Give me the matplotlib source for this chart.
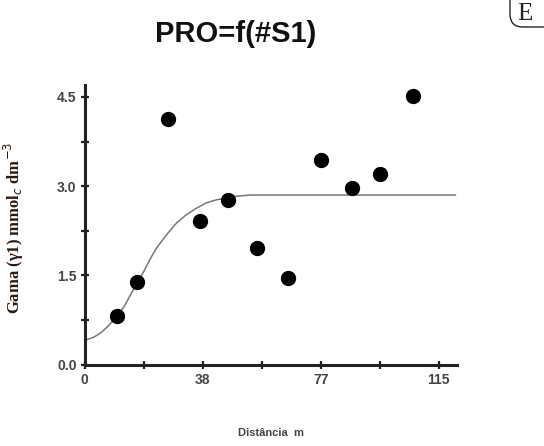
import numpy as np
import matplotlib.pyplot as plt
from matplotlib.patches import FancyBboxPatch

# observed semivariance points
dist = [10.6, 17.0, 27.1, 37.4, 46.6, 56.0, 66.0, 76.6, 86.7, 95.9, 106.5]
gamma = [0.82, 1.39, 4.13, 2.41, 2.76, 1.96, 1.45, 3.44, 2.97, 3.20, 4.51]

# fitted model curve
curve_h = [0.0, 0.75, 2.9, 5.1, 7.25, 9.4, 12.7, 14.8, 17.0, 19.2, 21.5, 23.3,
           26.5, 29.8, 33.0, 36.3, 39.5, 42.8, 46.0, 49.3, 53.8, 58.0, 120.4]
curve_g = [0.41, 0.42, 0.46, 0.53, 0.63, 0.75, 0.97, 1.17, 1.37, 1.57, 1.80, 1.96,
           2.18, 2.38, 2.52, 2.63, 2.72, 2.77, 2.80, 2.83, 2.85, 2.85, 2.85]

xticks = [0, 38.33, 76.67, 115]
xticklabels = ['0', '38', '77', '115']
xminor = [19.17, 57.5, 95.83]
yticks = [0.0, 1.5, 3.0, 4.5]
yticklabels = ['0.0', '1.5', '3.0', '4.5']
yminor = [0.75, 2.25, 3.75]

plt.rcParams['font.family'] = ['Liberation Sans', 'DejaVu Sans']

fig = plt.figure(figsize=(5.44, 4.46), dpi=100)
ax = fig.add_axes([0.156, 0.1827, 0.684, 0.6267])

ax.plot(curve_h, curve_g, color='#777777', lw=1.1, zorder=2)
ax.plot(dist, gamma, 'o', color='black', ms=10, zorder=3, clip_on=False)

ax.set_xlim(0, 120.9)
ax.set_ylim(0, 4.70)
for s in ['top', 'right']:
    ax.spines[s].set_visible(False)
for s in ['left', 'bottom']:
    ax.spines[s].set_linewidth(2.2)
    ax.spines[s].set_color('#222222')

ax.set_xticks(xticks)
ax.set_xticklabels(xticklabels)
ax.set_xticks(xminor, minor=True)
ax.set_yticks(yticks)
ax.set_yticklabels(yticklabels)
ax.set_yticks(yminor, minor=True)
ax.tick_params(which='both', direction='inout', length=6, width=1.6, color='#222222')
ax.tick_params(axis='both', labelsize=10, labelcolor='#444444', pad=3)
for lab in ax.get_xticklabels() + ax.get_yticklabels():
    lab.set_fontweight('bold')

fig.text(0.434, 0.924, 'PRO=f(#S1)', ha='center', va='center', fontsize=21,
         fontweight='bold', color='#111111')
fig.text(0.498, 0.029, 'Distância  m', ha='center', va='center', fontsize=8,
         fontweight='bold', color='#444444')
fig.text(0.026, 0.489, 'Gama (γ1) mmol$_c$ dm$^{-3}$', rotation=90, ha='center',
         va='center', fontsize=12, fontweight='bold', color='#2a1a10',
         family=['Liberation Serif', 'DejaVu Serif'])

# corner badge, cut off by the right edge
box = FancyBboxPatch((5.10, 4.19), 1.0, 0.4, boxstyle='round,pad=0,rounding_size=0.13',
                     transform=fig.dpi_scale_trans, fill=False, lw=1.0, ec='#222222')
fig.patches.append(box)
fig.text(0.965, 0.969, 'E', ha='center', va='center', fontsize=18,
         family=['Liberation Serif', 'DejaVu Serif'], color='#222222')

plt.savefig('out.png', dpi=100)
